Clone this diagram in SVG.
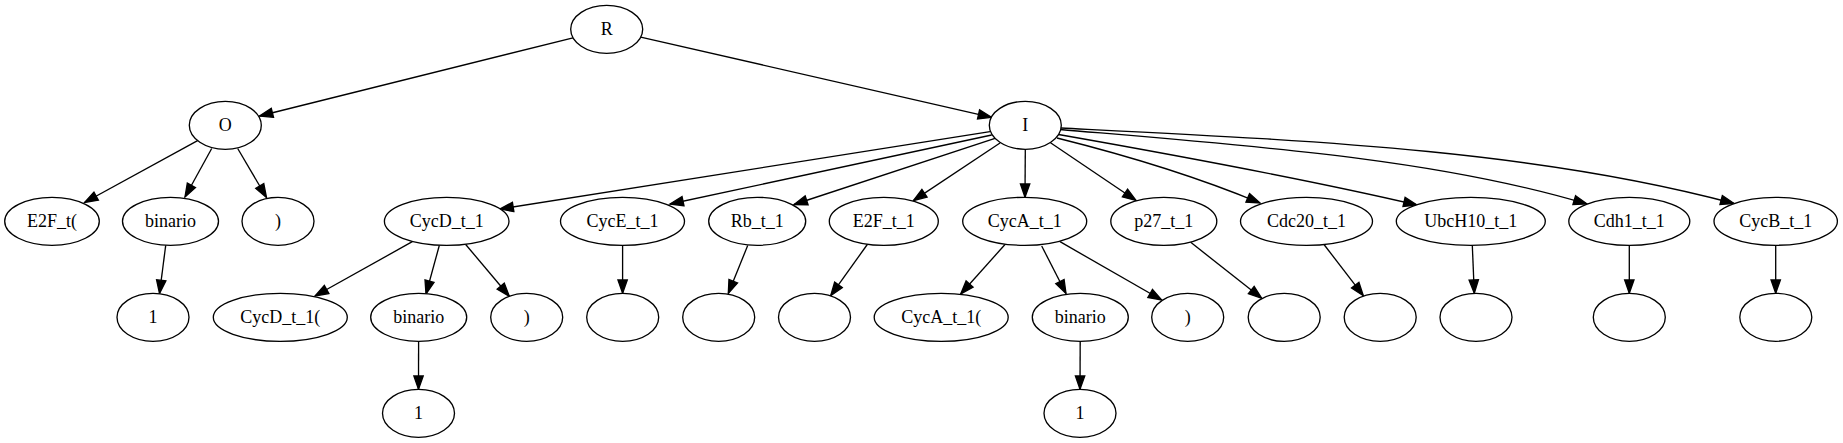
<svg xmlns="http://www.w3.org/2000/svg" width="1843" height="443" viewBox="0 0 1843 443">
<style>
  .n ellipse { fill: #ffffff; stroke: #000000; stroke-width: 1.33; }
  .n text { font-family: "Liberation Serif", "Times New Roman", serif; font-size: 18px; text-anchor: middle; fill: #000000; }
  #edges path { fill: none; stroke: #000000; stroke-width: 1.33; marker-end: url(#arr); }
</style>
<defs>
  <marker id="arr" markerUnits="userSpaceOnUse" markerWidth="16" markerHeight="12" refX="13.3" refY="4.67" orient="auto" overflow="visible">
    <path d="M0,0 L13.3,4.67 L0,9.33 z" fill="#000000" stroke="#000000" stroke-width="1.33"/>
  </marker>
</defs>
<rect x="0" y="0" width="1843" height="443" fill="#ffffff"/>
<g id="edges">
  <path d="M573,37.8 L259.5,116"/>
  <path d="M640.7,37.1 L991.5,117.3"/>
  <path d="M197.6,140.6 L84.5,202.5"/>
  <path d="M211.7,148.5 L185,197"/>
  <path d="M237.7,148.5 L266.5,197.5"/>
  <path d="M165.7,245.3 L159.5,293.5"/>
  <path d="M990,131.7 L500,209"/>
  <path d="M991.7,135 L670,204"/>
  <path d="M995,138.3 L794,204.5"/>
  <path d="M1000,143 L913.4,200.6"/>
  <path d="M1025.3,149.3 L1025,197.3"/>
  <path d="M1050.5,142.8 L1136,200.5"/>
  <path d="M1057,138 C1125,155 1200,178 1260,203"/>
  <path d="M1058.5,134.5 C1175,155 1310,180 1417,205"/>
  <path d="M1060,129.5 C1260,146.5 1437,159 1587,204"/>
  <path d="M1061,128 C1311,140.5 1534,150 1734,203.5"/>
  <path d="M412.3,241.7 L315,296"/>
  <path d="M439.3,245.5 L426,294"/>
  <path d="M465.7,244.5 L509.3,296.3"/>
  <path d="M622.6,245.3 L622.6,293.3"/>
  <path d="M747.7,245.5 L728.3,293.5"/>
  <path d="M867.3,244.5 L830.7,295.7"/>
  <path d="M1005,244.5 L960.7,294"/>
  <path d="M1041.7,246 L1066,293.5"/>
  <path d="M1060,241.7 L1161.7,300"/>
  <path d="M1190.7,242.3 L1261.7,298.3"/>
  <path d="M1324,244.5 L1363.3,295.7"/>
  <path d="M1472.3,245.3 L1474.3,293.3"/>
  <path d="M1629.3,245.3 L1629.3,293.3"/>
  <path d="M1775.7,245.3 L1775.7,293.3"/>
  <path d="M418.6,341.3 L418.5,389.3"/>
  <path d="M1080.2,341.3 L1080,389.3"/>
</g>
<g id="node_R" class="n"><ellipse cx="606.7" cy="29.3" rx="36" ry="24"/><text x="606.7" y="35.3">R</text></g>
<g id="node_O" class="n"><ellipse cx="225.3" cy="125.3" rx="36" ry="24"/><text x="225.3" y="131.3">O</text></g>
<g id="node_I" class="n"><ellipse cx="1025.3" cy="125.3" rx="36" ry="24"/><text x="1025.3" y="131.3">I</text></g>
<g id="node_E2F_t_open" class="n"><ellipse cx="52" cy="221.3" rx="47.3" ry="24"/><text x="52" y="227.3">E2F_t(</text></g>
<g id="node_binario_O" class="n"><ellipse cx="170.5" cy="221.3" rx="48" ry="24"/><text x="170.5" y="227.3">binario</text></g>
<g id="node_close_O" class="n"><ellipse cx="278" cy="221.3" rx="36" ry="24"/><text x="278" y="227.3">)</text></g>
<g id="node_CycD_t_1" class="n"><ellipse cx="446.7" cy="221.3" rx="62.3" ry="24"/><text x="446.7" y="227.3">CycD_t_1</text></g>
<g id="node_CycE_t_1" class="n"><ellipse cx="622.5" cy="221.3" rx="62" ry="24"/><text x="622.5" y="227.3">CycE_t_1</text></g>
<g id="node_Rb_t_1" class="n"><ellipse cx="757.2" cy="221.3" rx="48.5" ry="24"/><text x="757.2" y="227.3">Rb_t_1</text></g>
<g id="node_E2F_t_1" class="n"><ellipse cx="883.8" cy="221.3" rx="54.5" ry="24"/><text x="883.8" y="227.3">E2F_t_1</text></g>
<g id="node_CycA_t_1" class="n"><ellipse cx="1024.7" cy="221.3" rx="62" ry="24"/><text x="1024.7" y="227.3">CycA_t_1</text></g>
<g id="node_p27_t_1" class="n"><ellipse cx="1163.8" cy="221.3" rx="53" ry="24"/><text x="1163.8" y="227.3">p27_t_1</text></g>
<g id="node_Cdc20_t_1" class="n"><ellipse cx="1306.5" cy="221.3" rx="66" ry="24"/><text x="1306.5" y="227.3">Cdc20_t_1</text></g>
<g id="node_UbcH10_t_1" class="n"><ellipse cx="1470.8" cy="221.3" rx="74.5" ry="24"/><text x="1470.8" y="227.3">UbcH10_t_1</text></g>
<g id="node_Cdh1_t_1" class="n"><ellipse cx="1629.3" cy="221.3" rx="60.5" ry="24"/><text x="1629.3" y="227.3">Cdh1_t_1</text></g>
<g id="node_CycB_t_1" class="n"><ellipse cx="1775.7" cy="221.3" rx="61.7" ry="24"/><text x="1775.7" y="227.3">CycB_t_1</text></g>
<g id="node_one_O" class="n"><ellipse cx="153" cy="317.3" rx="36" ry="24"/><text x="153" y="323.3">1</text></g>
<g id="node_CycD_t_1_open" class="n"><ellipse cx="280.3" cy="317.3" rx="67" ry="24"/><text x="280.3" y="323.3">CycD_t_1(</text></g>
<g id="node_binario_CycD" class="n"><ellipse cx="418.7" cy="317.3" rx="48" ry="24"/><text x="418.7" y="323.3">binario</text></g>
<g id="node_close_CycD" class="n"><ellipse cx="526.7" cy="317.3" rx="36" ry="24"/><text x="526.7" y="323.3">)</text></g>
<g id="node_blank_CycE" class="n"><ellipse cx="622.7" cy="317.3" rx="36" ry="24"/></g>
<g id="node_blank_Rb" class="n"><ellipse cx="718.7" cy="317.3" rx="36" ry="24"/></g>
<g id="node_blank_E2F" class="n"><ellipse cx="814.5" cy="317.3" rx="36" ry="24"/></g>
<g id="node_CycA_t_1_open" class="n"><ellipse cx="941.2" cy="317.3" rx="67" ry="24"/><text x="941.2" y="323.3">CycA_t_1(</text></g>
<g id="node_binario_CycA" class="n"><ellipse cx="1080.3" cy="317.3" rx="48" ry="24"/><text x="1080.3" y="323.3">binario</text></g>
<g id="node_close_CycA" class="n"><ellipse cx="1187.7" cy="317.3" rx="36" ry="24"/><text x="1187.7" y="323.3">)</text></g>
<g id="node_blank_p27" class="n"><ellipse cx="1284.2" cy="317.3" rx="36" ry="24"/></g>
<g id="node_blank_Cdc20" class="n"><ellipse cx="1380.2" cy="317.3" rx="36" ry="24"/></g>
<g id="node_blank_UbcH10" class="n"><ellipse cx="1476" cy="317.3" rx="36" ry="24"/></g>
<g id="node_blank_Cdh1" class="n"><ellipse cx="1629.3" cy="317.3" rx="36" ry="24"/></g>
<g id="node_blank_CycB" class="n"><ellipse cx="1775.8" cy="317.3" rx="36" ry="24"/></g>
<g id="node_one_CycD" class="n"><ellipse cx="418.5" cy="413.3" rx="36" ry="24"/><text x="418.5" y="419.3">1</text></g>
<g id="node_one_CycA" class="n"><ellipse cx="1080" cy="413.3" rx="36" ry="24"/><text x="1080" y="419.3">1</text></g>
</svg>
